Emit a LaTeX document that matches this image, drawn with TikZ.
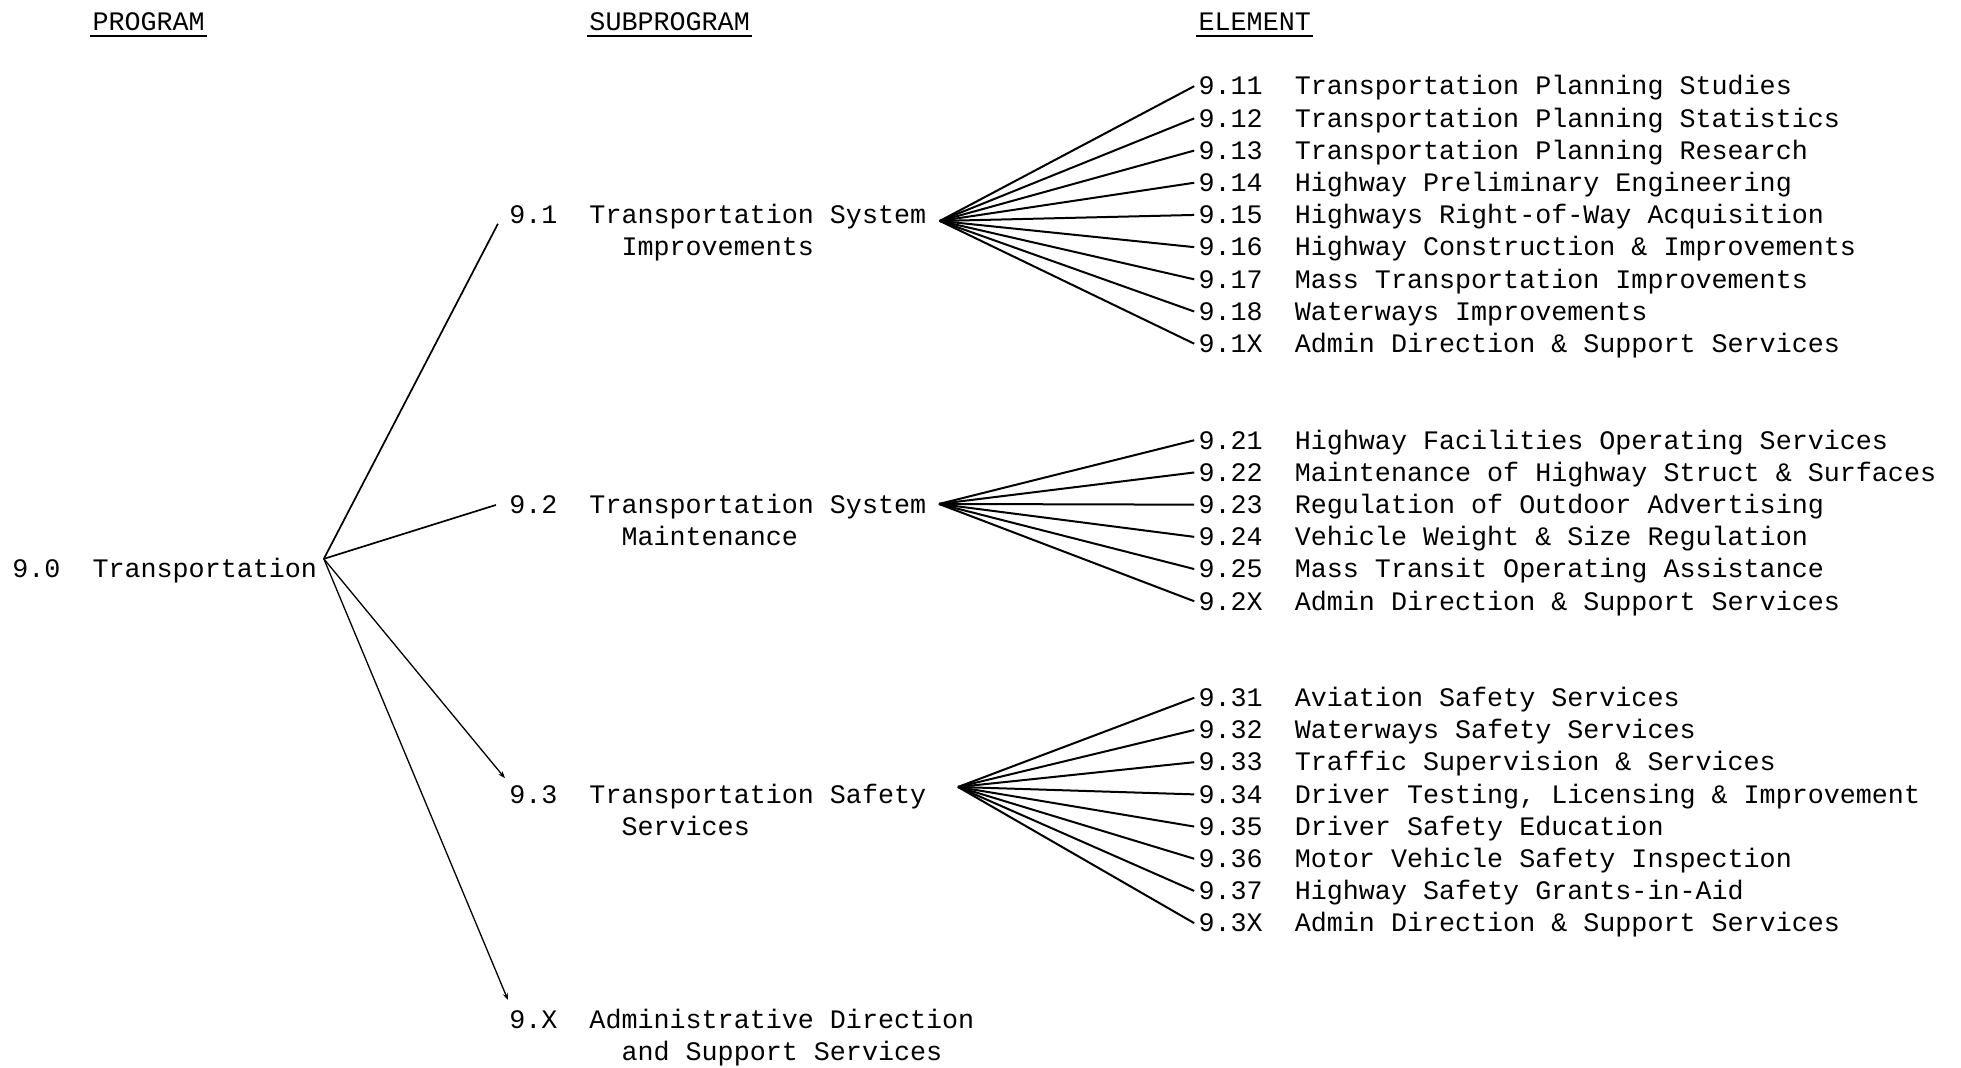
\documentclass[tikz,border=0pt]{standalone}
\usepackage{fontspec}
\newfontfamily\typewriter{Liberation Mono}
\usetikzlibrary{arrows.meta}
\tikzset{
  txt/.style={inner sep=0pt, anchor=base west,
    font=\typewriter\fontsize{13.36pt}{16pt}\selectfont},
  num/.style={txt, text height=8.8pt, text depth=0pt},
  fan/.style={line width=1pt},
  trunk/.style={line width=0.85pt},
  thintrunk/.style={line width=0.65pt, -{Stealth[length=3.5pt,width=2.6pt]}},
  uline/.style={line width=1pt}
}
\begin{document}
\begin{tikzpicture}
\fill[white] (0,0) rectangle (980.5pt,-534pt);
\useasboundingbox (0,0) rectangle (980.5pt,-534pt);

% typewriter grid: one unit = one character column / one line
\begin{scope}[shift={(6pt,-47.5pt)}, x=8.015pt, y=-16.095pt]
  % column headings
  \node[txt] (hprog) at (5,-2) {PROGRAM};
  \node[txt] (hsub)  at (36,-2) {SUBPROGRAM};
  \node[txt] (helem) at (74,-2) {ELEMENT};

  % program
  \node[num] (p0num) at (0,15) {9.0};
  \node[txt] (p0) at (5,15) {Transportation};

  % subprograms
  \node[num] (s1) at (31,4) {9.1};
  \node[txt] (s1a) at (36,4) {Transportation System};
  \node[txt] (s1b) at (38,5) {Improvements};
  \node[num] (s2) at (31,13) {9.2};
  \node[txt] (s2a) at (36,13) {Transportation System};
  \node[txt] (s2b) at (38,14) {Maintenance};
  \node[num] (s3) at (31,22) {9.3};
  \node[txt] (s3a) at (36,22) {Transportation Safety};
  \node[txt] (s3b) at (38,23) {Services};
  \node[num] (sX) at (31,29) {9.X};
  \node[txt] (sXa) at (36,29) {Administrative Direction};
  \node[txt] (sXb) at (38,30) {and Support Services};

  % elements of 9.1
  \foreach \k/\t [count=\i from 0] in {
      11/Transportation Planning Studies,
      12/Transportation Planning Statistics,
      13/Transportation Planning Research,
      14/Highway Preliminary Engineering,
      15/Highways Right-of-Way Acquisition,
      16/Highway Construction \& Improvements,
      17/Mass Transportation Improvements,
      18/Waterways Improvements,
      1X/Admin Direction \& Support Services} {
    \node[num] (e\k) at (74,\i) {9.\k};
    \node[txt] (t\k) at (80,\i) {\t};
  }
  % elements of 9.2
  \foreach \k/\t [count=\i from 11] in {
      21/Highway Facilities Operating Services,
      22/Maintenance of Highway Struct \& Surfaces,
      23/Regulation of Outdoor Advertising,
      24/Vehicle Weight \& Size Regulation,
      25/Mass Transit Operating Assistance,
      2X/Admin Direction \& Support Services} {
    \node[num] (e\k) at (74,\i) {9.\k};
    \node[txt] (t\k) at (80,\i) {\t};
  }
  % elements of 9.3
  \foreach \k/\t [count=\i from 19] in {
      31/Aviation Safety Services,
      32/Waterways Safety Services,
      33/Traffic Supervision \& Services,
      34/{Driver Testing, Licensing \& Improvement},
      35/Driver Safety Education,
      36/Motor Vehicle Safety Inspection,
      37/Highway Safety Grants-in-Aid,
      3X/Admin Direction \& Support Services} {
    \node[num] (e\k) at (74,\i) {9.\k};
    \node[txt] (t\k) at (80,\i) {\t};
  }
\end{scope}

% heading underlines
\foreach \h in {hprog,hsub,helem}
  \draw[uline] ([shift={(-1pt,-2.6pt)}]\h.base west) -- ([shift={(1pt,-2.6pt)}]\h.base east);

% branching points
\coordinate (hub0) at ([shift={(3.2pt,9.5pt)}]p0.base east);
\coordinate (hub1) at ([shift={(6.6pt,1.4pt)}]s1a.base east);
\coordinate (hub2) at ([shift={(6.2pt,4.75pt)}]s2a.base east);
\coordinate (hub3) at ([shift={(15.7pt,8.1pt)}]s3a.base east);

% program to subprograms
\draw[trunk] (hub0) -- ([xshift=-5.5pt]s1.base west);
\draw[trunk] (hub0) -- ([shift={(-6.5pt,4.25pt)}]s2.base west);
\draw[thintrunk] (hub0) -- ([shift={(-2pt,12.5pt)}]s3.base west);
\draw[thintrunk] (hub0) -- ([shift={(-0.5pt,14.3pt)}]sX.base west);

% subprograms to elements
\foreach \k in {11,12,13,14,15,16,17,18,1X}
  \draw[fan] (hub1) -- ([xshift=-2pt]e\k.west);
\foreach \k in {21,22,23,24,25,2X}
  \draw[fan] (hub2) -- ([xshift=-2pt]e\k.west);
\foreach \k in {31,32,33,34,35,36,37,3X}
  \draw[fan] (hub3) -- ([xshift=-2pt]e\k.west);
\end{tikzpicture}
\end{document}
